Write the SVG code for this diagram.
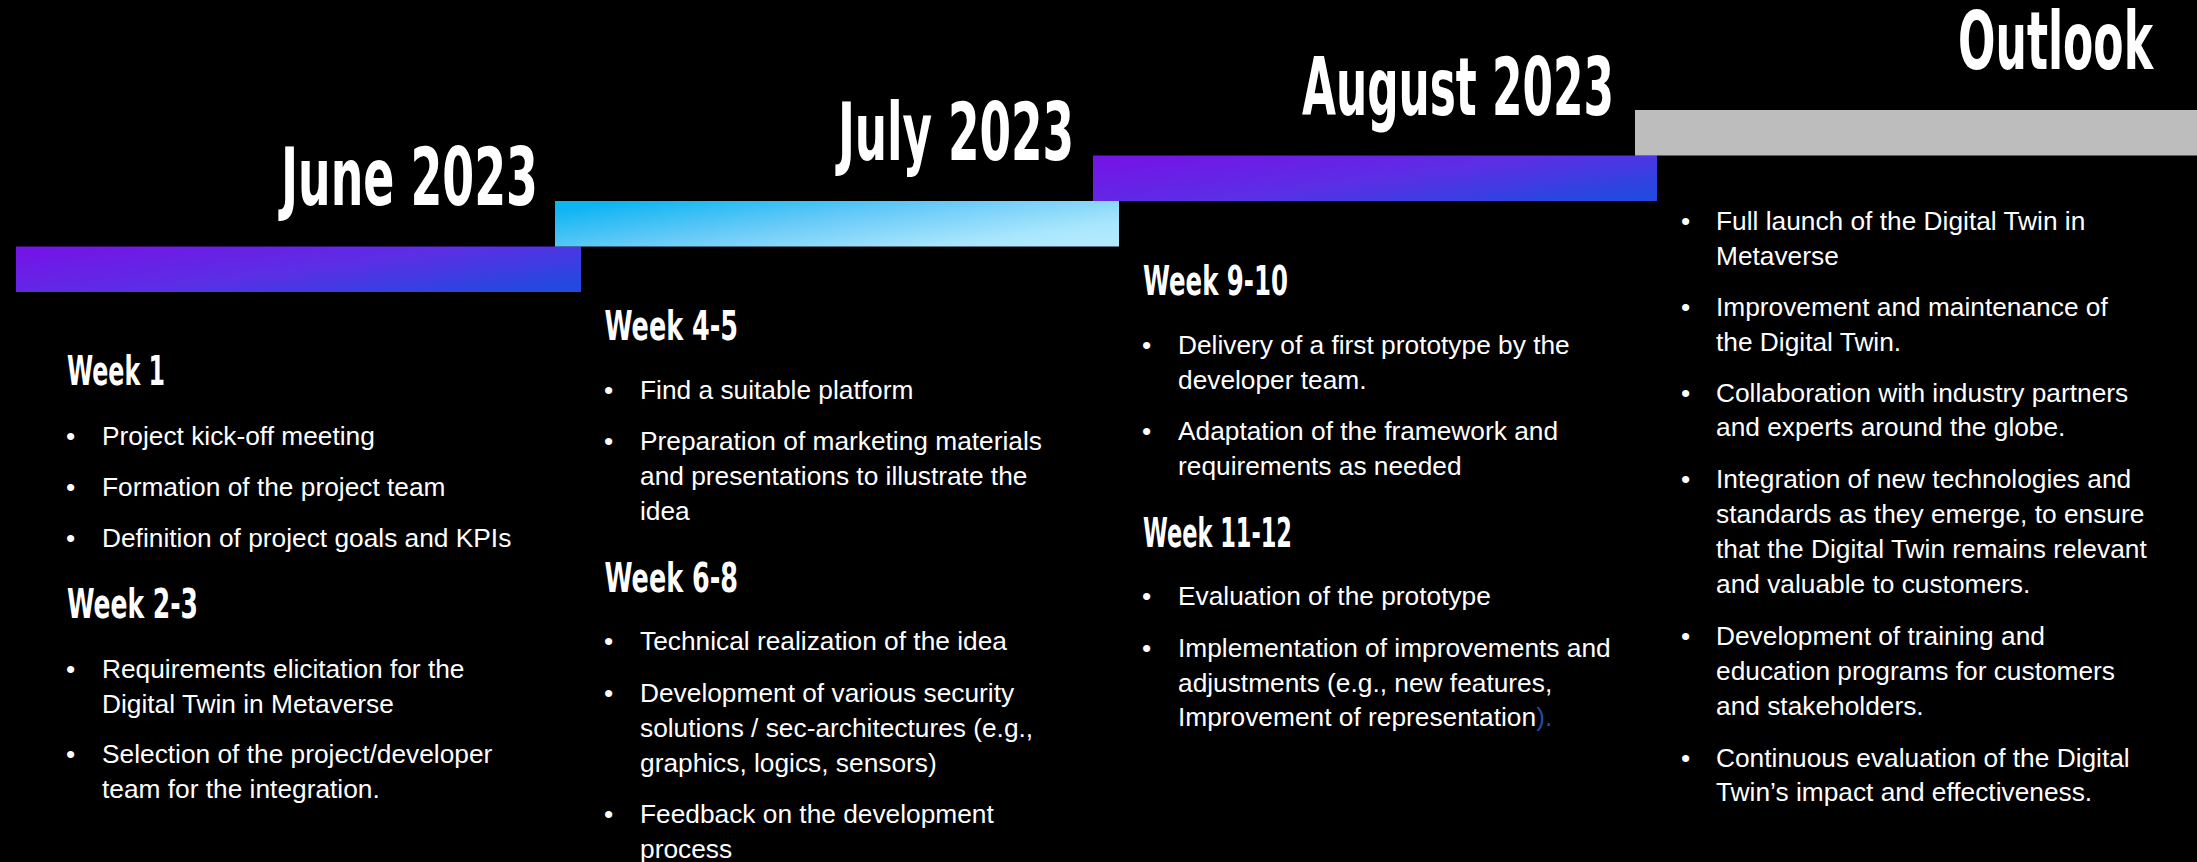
<svg xmlns="http://www.w3.org/2000/svg" width="2197" height="862" viewBox="0 0 2197 862">
<defs>
<linearGradient id="gPurple" x1="0" y1="0.2" x2="1" y2="0.8">
<stop offset="0" stop-color="#7216E6"/>
<stop offset="0.5" stop-color="#5C2EE5"/>
<stop offset="1" stop-color="#2349E0"/>
</linearGradient>
<linearGradient id="gCyan" x1="0" y1="0.2" x2="1" y2="0.8">
<stop offset="0" stop-color="#0DB5F2"/>
<stop offset="0.45" stop-color="#6ACBF8"/>
<stop offset="0.85" stop-color="#A9E6FD"/>
<stop offset="1" stop-color="#B1EAFE"/>
</linearGradient>
<style>
.title{font-family:'Liberation Sans Narrow','DejaVu Sans Condensed','Liberation Sans',sans-serif;font-weight:bold;font-size:80px;fill:#fff;}
.head{font-family:'Liberation Sans Narrow','DejaVu Sans Condensed','Liberation Sans',sans-serif;font-weight:bold;font-size:41px;fill:#fff;}
.b{font-family:'Liberation Sans',Arial,sans-serif;font-size:26.3px;fill:#fff;}
.blue{fill:#1F4FA0;}
</style>
</defs>
<rect x="0" y="0" width="2197" height="862" fill="#000"/>

<g id="june">
<rect x="16" y="246.5" width="565" height="45.5" fill="url(#gPurple)"/>
<text class="title" x="538" y="205" text-anchor="end" textLength="257" lengthAdjust="spacingAndGlyphs">June 2023</text>
<text class="head" x="67" y="385" textLength="98" lengthAdjust="spacingAndGlyphs">Week 1</text>
<g class="b">
<text x="66" y="445">•</text><text x="102" y="445">Project kick-off meeting</text>
<text x="66" y="496">•</text><text x="102" y="496">Formation of the project team</text>
<text x="66" y="547">•</text><text x="102" y="547">Definition of project goals and KPIs</text>
</g>
<text class="head" x="67" y="618" textLength="131" lengthAdjust="spacingAndGlyphs">Week 2-3</text>
<g class="b">
<text x="66" y="678">•</text><text x="102" y="678">Requirements elicitation for the</text>
<text x="102" y="712.5">Digital Twin in Metaverse</text>
<text x="66" y="763">•</text><text x="102" y="763">Selection of the project/developer</text>
<text x="102" y="797.5">team for the integration.</text>
</g>
</g>

<g id="july">
<rect x="555" y="201" width="564" height="45.5" fill="url(#gCyan)"/>
<text class="title" x="1074" y="160" text-anchor="end" textLength="236" lengthAdjust="spacingAndGlyphs">July 2023</text>
<text class="head" x="604.5" y="340" textLength="133.5" lengthAdjust="spacingAndGlyphs">Week 4-5</text>
<g class="b">
<text x="604" y="398.5">•</text><text x="640" y="398.5">Find a suitable platform</text>
<text x="604" y="449.5">•</text><text x="640" y="449.5">Preparation of marketing materials</text>
<text x="640" y="484.5">and presentations to illustrate the</text>
<text x="640" y="519.5">idea</text>
</g>
<text class="head" x="604.5" y="592" textLength="133.5" lengthAdjust="spacingAndGlyphs">Week 6-8</text>
<g class="b">
<text x="604" y="650">•</text><text x="640" y="650">Technical realization of the idea</text>
<text x="604" y="701.5">•</text><text x="640" y="701.5">Development of various security</text>
<text x="640" y="736.5">solutions / sec-architectures (e.g.,</text>
<text x="640" y="771.5">graphics, logics, sensors)</text>
<text x="604" y="823">•</text><text x="640" y="823">Feedback on the development</text>
<text x="640" y="857.5">process</text>
</g>
</g>

<g id="august">
<rect x="1093" y="155.5" width="564" height="45.5" fill="url(#gPurple)"/>
<text class="title" x="1614" y="114.5" text-anchor="end" textLength="312" lengthAdjust="spacingAndGlyphs">August 2023</text>
<text class="head" x="1143" y="295" textLength="145" lengthAdjust="spacingAndGlyphs">Week 9-10</text>
<g class="b">
<text x="1142" y="353.5">•</text><text x="1178" y="353.5">Delivery of a first prototype by the</text>
<text x="1178" y="388.5">developer team.</text>
<text x="1142" y="440">•</text><text x="1178" y="440">Adaptation of the framework and</text>
<text x="1178" y="474.5">requirements as needed</text>
</g>
<text class="head" x="1143" y="546.5" textLength="149" lengthAdjust="spacingAndGlyphs">Week 11-12</text>
<g class="b">
<text x="1142" y="605">•</text><text x="1178" y="605">Evaluation of the prototype</text>
<text x="1142" y="656.5">•</text><text x="1178" y="656.5">Implementation of improvements and</text>
<text x="1178" y="691.5">adjustments (e.g., new features,</text>
<text x="1178" y="726">Improvement of representation<tspan class="blue">).</tspan></text>
</g>
</g>

<g id="outlook">
<rect x="1635" y="110" width="562" height="45.5" fill="#BDBDBD"/>
<text class="title" x="2153" y="68.5" text-anchor="end" textLength="195" lengthAdjust="spacingAndGlyphs">Outlook</text>
<g class="b">
<text x="1681" y="230">•</text><text x="1716" y="230">Full launch of the Digital Twin in</text>
<text x="1716" y="264.5">Metaverse</text>
<text x="1681" y="316">•</text><text x="1716" y="316">Improvement and maintenance of</text>
<text x="1716" y="350.5">the Digital Twin.</text>
<text x="1681" y="401.5">•</text><text x="1716" y="401.5">Collaboration with industry partners</text>
<text x="1716" y="436">and experts around the globe.</text>
<text x="1681" y="488">•</text><text x="1716" y="488">Integration of new technologies and</text>
<text x="1716" y="522.5">standards as they emerge, to ensure</text>
<text x="1716" y="557.5">that the Digital Twin remains relevant</text>
<text x="1716" y="592.5">and valuable to customers.</text>
<text x="1681" y="644.5">•</text><text x="1716" y="644.5">Development of training and</text>
<text x="1716" y="679.5">education programs for customers</text>
<text x="1716" y="714.5">and stakeholders.</text>
<text x="1681" y="766.5">•</text><text x="1716" y="766.5">Continuous evaluation of the Digital</text>
<text x="1716" y="801">Twin’s impact and effectiveness.</text>
</g>
</g>
</svg>
